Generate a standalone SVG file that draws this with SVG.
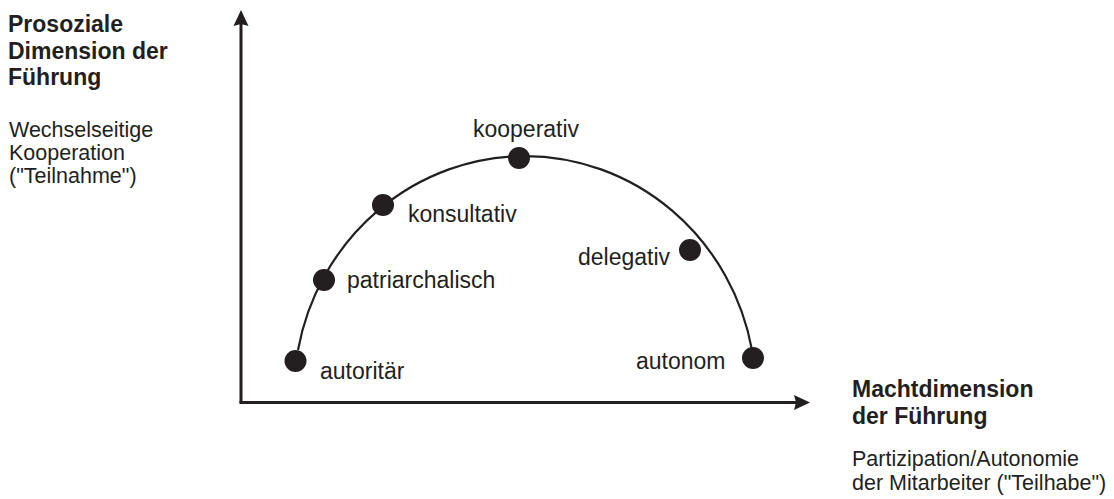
<svg xmlns="http://www.w3.org/2000/svg" width="1114" height="499" viewBox="0 0 1114 499">
<style>
text{font-family:"Liberation Sans",Arial,sans-serif;fill:#231f20}
.b{font-weight:bold;font-size:23px}
.r{font-size:21.5px}
.l{font-size:23px}
.dot{fill:#231f20}
</style>
<rect width="1114" height="499" fill="#fff"/>
<g id="connectors" fill="none" stroke="#231f20">
<path d="M241 403 V24" stroke-width="3"/>
<path d="M241 10 L248.5 26 L241 24 L233.5 26 Z" fill="#231f20" stroke="none"/>
<path d="M239.5 402.5 H796" stroke-width="3"/>
<path d="M810 402.5 L794 395 L796 402.5 L794 410 Z" fill="#231f20" stroke="none"/>
<path d="M298 350 A231 238 0 0 1 752 350" stroke-width="2.2"/>
</g>
<g id="axis-y-label">
<text class="b" x="8" y="32">Prosoziale</text>
<text class="b" x="8" y="58.5">Dimension der</text>
<text class="b" x="8" y="85">Führung</text>
<text class="r" x="9" y="137">Wechselseitige</text>
<text class="r" x="9" y="160">Kooperation</text>
<text class="r" x="9" y="183">("Teilnahme")</text>
</g>
<g id="axis-x-label">
<text class="b" x="852" y="397">Machtdimension</text>
<text class="b" x="852" y="423.5">der Führung</text>
<text class="r" x="852" y="466">Partizipation/Autonomie</text>
<text class="r" x="852" y="490">der Mitarbeiter ("Teilhabe")</text>
</g>
<g id="autoritaer"><circle class="dot" cx="295.5" cy="361" r="11"/><text class="l" x="320" y="379">autoritär</text></g>
<g id="patriarchalisch"><circle class="dot" cx="324" cy="280" r="11"/><text class="l" x="347" y="288">patriarchalisch</text></g>
<g id="konsultativ"><circle class="dot" cx="383" cy="205" r="11"/><text class="l" x="408" y="222">konsultativ</text></g>
<g id="kooperativ"><circle class="dot" cx="519" cy="158" r="11"/><text class="l" x="473" y="137">kooperativ</text></g>
<g id="delegativ"><circle class="dot" cx="690" cy="250" r="11"/><text class="l" x="578" y="265">delegativ</text></g>
<g id="autonom"><circle class="dot" cx="753" cy="358" r="11"/><text class="l" x="636" y="369">autonom</text></g>
</svg>
